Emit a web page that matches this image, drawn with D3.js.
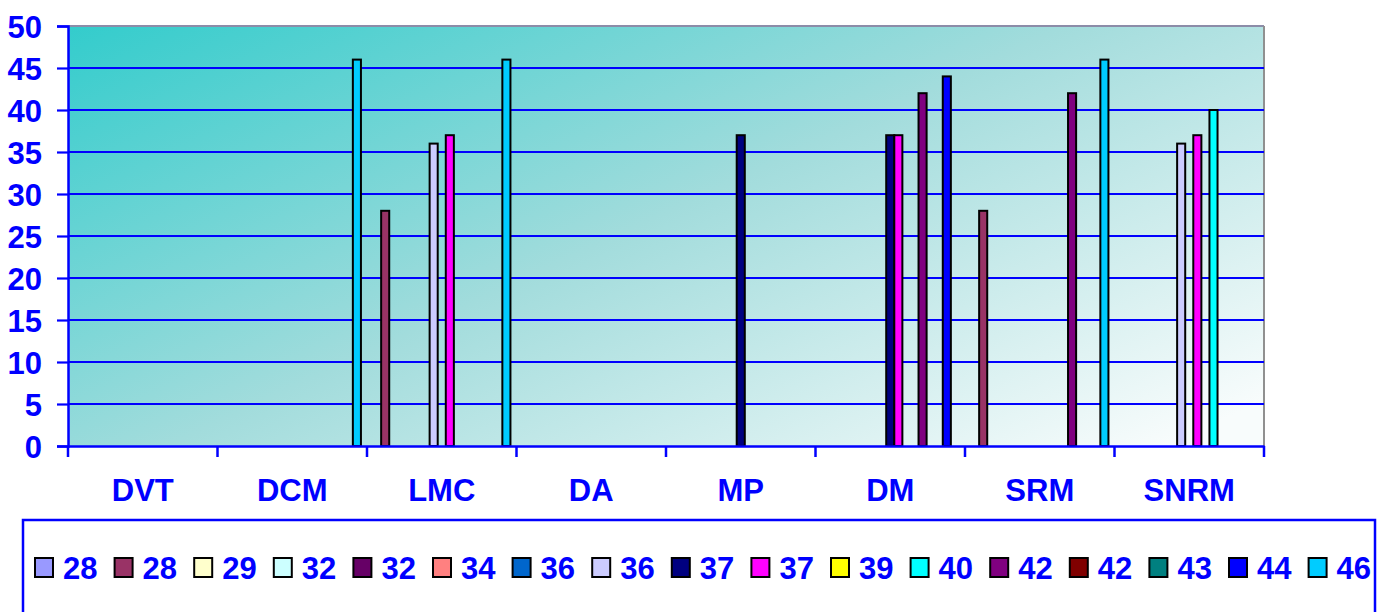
<!DOCTYPE html>
<html>
<head>
<meta charset="utf-8">
<script src="https://cdn.jsdelivr.net/npm/d3@7/dist/d3.min.js"></script>
<style>
  html, body { margin: 0; padding: 0; background: #ffffff; }
  svg { display: block; }
  text { font-family: "Liberation Sans", Arial, sans-serif; font-weight: bold; }
</style>
</head>
<body>
<svg id="chart" width="1389" height="612"></svg>
<script>
// Categories along the x axis
const categories = ["DVT", "DCM", "LMC", "DA", "MP", "DM", "SRM", "SNRM"];

// Series names as shown in the legend
const seriesNames = ["28", "28", "29", "32", "32", "34", "36", "36", "37", "37", "39", "40", "42", "42", "43", "44", "46"];

// One row per series, one value per category (null = no bar)
const seriesValues = [
  [null, null, null, null, null, null, null, null], // 28
  [null, null, 28,   null, null, null, 28,   null], // 28
  [null, null, null, null, null, null, null, null], // 29
  [null, null, null, null, null, null, null, null], // 32
  [null, null, null, null, null, null, null, null], // 32
  [null, null, null, null, null, null, null, null], // 34
  [null, null, null, null, null, null, null, null], // 36
  [null, null, 36,   null, null, null, null, 36  ], // 36
  [null, null, null, null, 37,   37,   null, null], // 37
  [null, null, 37,   null, null, 37,   null, 37  ], // 37
  [null, null, null, null, null, null, null, null], // 39
  [null, null, null, null, null, null, null, 40  ], // 40
  [null, null, null, null, null, 42,   42,   null], // 42
  [null, null, null, null, null, null, null, null], // 42
  [null, null, null, null, null, null, null, null], // 43
  [null, null, null, null, null, 44,   null, null], // 44
  [null, 46,   46,   null, null, null, 46,   null]  // 46
];

// Y axis tick values
const yTicks = [0, 5, 10, 15, 20, 25, 30, 35, 40, 45, 50];

// Series palette
const palette = ["#9999FF", "#993366", "#FFFFCC", "#CCFFFF", "#660066", "#FF8080", "#0066CC", "#CCCCFF",
                 "#000080", "#FF00FF", "#FFFF00", "#00FFFF", "#800080", "#800000", "#008080", "#0000FF", "#00CCFF"];

const blue = "#0000FF";
const fontSize = 31;
const svg = d3.select("#chart");

const plot = { left: 68, top: 26, right: 1264, bottom: 446 };

const x = d3.scaleBand().domain(categories).range([plot.left, plot.right]).paddingInner(0).paddingOuter(0);
const xs = d3.scaleBand().domain(d3.range(seriesNames.length)).range([0, x.bandwidth()])
  .paddingInner(0).paddingOuter(0.75);
const y = d3.scaleLinear().domain([0, 50]).range([plot.bottom, plot.top]);

// Plot area background gradient, teal in the top-left fading to white
const defs = svg.append("defs");
const grad = defs.append("linearGradient").attr("id", "bg")
  .attr("gradientUnits", "userSpaceOnUse")
  .attr("x1", plot.left).attr("y1", plot.top)
  .attr("x2", plot.left + 358).attr("y2", plot.top + 766);
grad.append("stop").attr("offset", "0%").attr("stop-color", "#33CCCC");
grad.append("stop").attr("offset", "50%").attr("stop-color", "#A2DCDC");
grad.append("stop").attr("offset", "100%").attr("stop-color", "#F8FCFC");

svg.append("rect")
  .attr("x", plot.left).attr("y", plot.top)
  .attr("width", plot.right - plot.left).attr("height", plot.bottom - plot.top)
  .attr("fill", "url(#bg)");

// Plot area border (top and right)
svg.append("line").attr("x1", plot.left).attr("x2", plot.right).attr("y1", plot.top).attr("y2", plot.top)
  .attr("stroke", "#8C8CA8").attr("stroke-width", 2);
svg.append("line").attr("x1", plot.right).attr("x2", plot.right).attr("y1", plot.top).attr("y2", plot.bottom)
  .attr("stroke", "#909090").attr("stroke-width", 2);

// Horizontal gridlines
svg.append("g").selectAll("line")
  .data(yTicks.filter(d => d > 0 && d < 50))
  .join("line")
  .attr("x1", plot.left).attr("x2", plot.right)
  .attr("y1", d => y(d)).attr("y2", d => y(d))
  .attr("stroke", blue).attr("stroke-width", 2.2);

// Bars
const barGroups = svg.append("g").selectAll("g")
  .data(seriesValues)
  .join("g")
  .attr("fill", (d, i) => palette[i]);

barGroups.selectAll("rect")
  .data((row, si) => row.map((v, ci) => ({ v, si, c: categories[ci] })).filter(d => d.v != null))
  .join("rect")
  .attr("x", d => x(d.c) + xs(d.si))
  .attr("width", xs.bandwidth())
  .attr("y", d => y(d.v))
  .attr("height", d => y(0) - y(d.v))
  .attr("stroke", "#000000")
  .attr("stroke-width", 2);

// Y axis
const yAxis = svg.append("g")
  .attr("transform", `translate(${plot.left},0)`)
  .call(d3.axisLeft(y).tickValues(yTicks).tickSize(11).tickPadding(15).tickFormat(d3.format("d")));
yAxis.select(".domain").attr("stroke", blue).attr("stroke-width", 2.5);
yAxis.selectAll(".tick line").attr("stroke", blue).attr("stroke-width", 2.2);
yAxis.selectAll(".tick text").attr("fill", blue).attr("font-size", fontSize)
  .attr("font-family", "'Liberation Sans', Arial, sans-serif").attr("font-weight", "bold")
  .attr("dy", "0.36em");

// X axis with labels centred in each category
const xAxis = svg.append("g")
  .attr("transform", `translate(0,${plot.bottom})`)
  .call(d3.axisBottom(x).tickSize(0).tickPadding(33));
xAxis.select(".domain").attr("stroke", blue).attr("stroke-width", 2.5);
xAxis.selectAll(".tick text").attr("fill", blue).attr("font-size", fontSize)
  .attr("font-family", "'Liberation Sans', Arial, sans-serif").attr("font-weight", "bold");

// Tick marks on category boundaries
const bounds = categories.map(c => x(c)).concat([x(categories[categories.length - 1]) + x.bandwidth()]);
svg.append("g").selectAll("line")
  .data(bounds)
  .join("line")
  .attr("x1", d => d).attr("x2", d => d)
  .attr("y1", plot.bottom).attr("y2", plot.bottom + 11)
  .attr("stroke", blue).attr("stroke-width", 2.5);

// Legend
const legend = svg.append("g");
legend.append("rect")
  .attr("x", 23).attr("y", 520).attr("width", 1352).attr("height", 130)
  .attr("fill", "#ffffff").attr("stroke", blue).attr("stroke-width", 2.5);

const lx = d3.scaleLinear().domain([0, seriesNames.length - 1]).range([34, 1307.6]);
const items = legend.selectAll("g.item")
  .data(seriesNames)
  .join("g")
  .attr("class", "item")
  .attr("transform", (d, i) => `translate(${lx(i)},557)`);
items.append("rect")
  .attr("x", 1).attr("y", 1).attr("width", 18).attr("height", 19)
  .attr("fill", (d, i) => palette[i])
  .attr("stroke", "#000000").attr("stroke-width", 2);
items.append("text")
  .attr("x", 29).attr("y", 21.5)
  .attr("fill", blue).attr("font-size", fontSize)
  .text(d => d);
</script>
</body>
</html>
